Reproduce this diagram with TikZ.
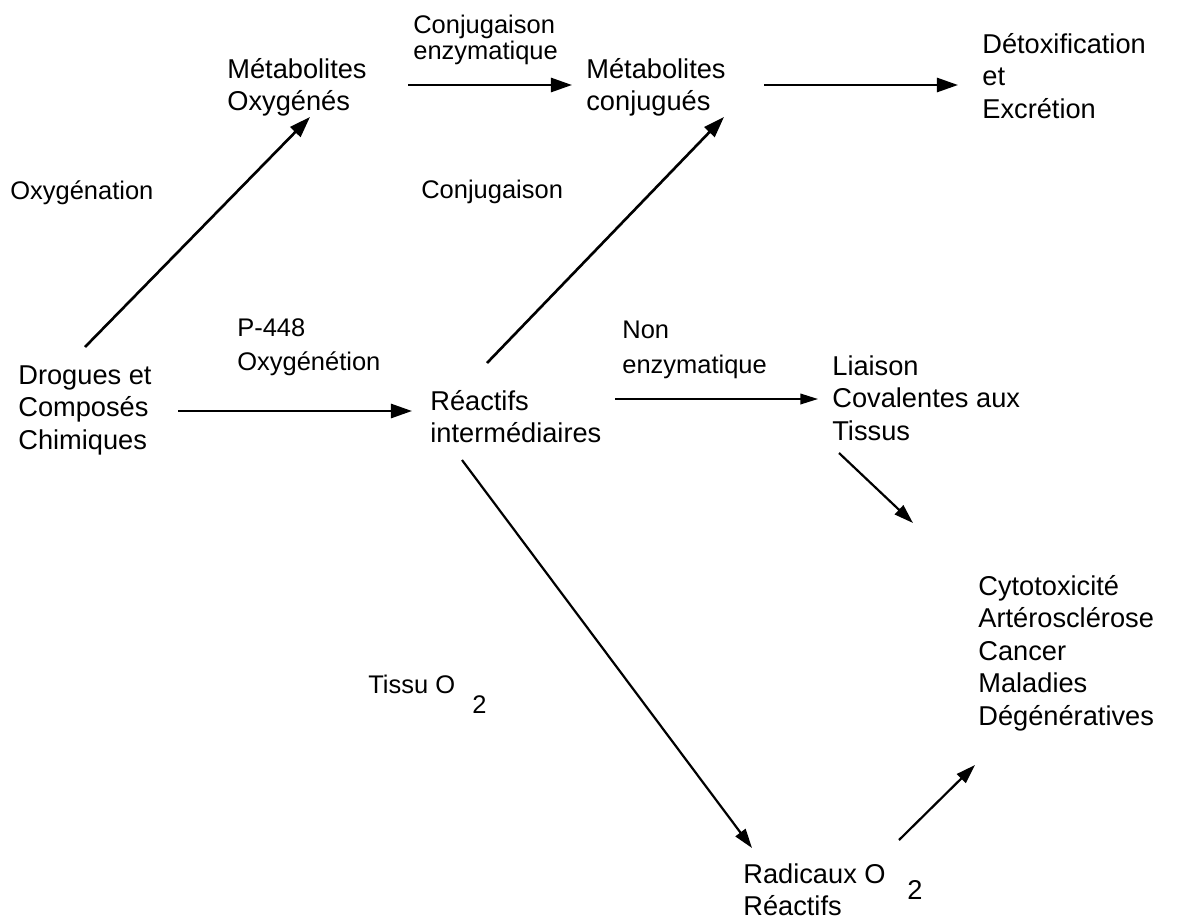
\documentclass[tikz,border=0pt]{standalone}
\usepackage{fontspec}
\setmainfont{Liberation Sans}
\usetikzlibrary{arrows.meta}
\begin{document}
\begin{tikzpicture}[x=0.02cm, y=-0.02cm,
  txt/.style={anchor=north west, align=left, inner sep=0pt, font=\fontsize{15.5}{18.5}\selectfont},
  lbl/.style={txt, font=\fontsize{14.5}{19.5}\selectfont},
  arr/.style={line width=1.5pt, -{Triangle[length=12pt,width=8pt]}},
  midarr/.style={arr, line width=1.25pt, -{Triangle[length=11pt,width=7pt]}},
  thinarr/.style={arr, line width=1pt, -{Triangle[length=10pt,width=6pt]}}]
\useasboundingbox (0,0) rectangle (1180,923);

% products
\node[txt] (metox)    at (227,58)  {Métabolites\\Oxygénés};
\node[txt] (metconj)  at (586,58)  {Métabolites\\conjugués};
\node[txt] (detox)    at (982,33)  {Détoxification\\et\\Excrétion};
\node[txt] (drogues)  at (18,365)  {Drogues et\\Composés\\Chimiques};
\node[txt] (reactifs) at (430,390) {Réactifs\\intermédiaires};
\node[txt] (liaison)  at (832,355) {Liaison\\Covalentes aux\\Tissus};
\node[txt] (maladies) at (978,575) {Cytotoxicité\\Artérosclérose\\Cancer\\Maladies\\Dégénératives};
\node[txt] (radicaux) at (743,863) {Radicaux O\\Réactifs};
\node[txt] (radsub)   at (907,880) {2};

% reactions
\node[lbl] (conjenz)  at (413,15)  {Conjugaison\\[-5pt]enzymatique};
\node[lbl] (oxygen)   at (10,180)  {Oxygénation};
\node[lbl] (conjug)   at (421,180) {Conjugaison};
\node[lbl] (ptype)    at (237,318) {P-448\\Oxygénétion};
\node[lbl] (nonenz)   at (622,321) {Non\\enzymatique};
\node[lbl] (tissu)    at (368,675) {Tissu O};
\node[lbl] (tissusub) at (472,695) {2};

% arrows
\draw[arr] ([shift={(67,-18)}]drogues.north west) -- ([shift={(83,59)}]metox.north west);
\draw[arr] ([shift={(181,27)}]metox.north west) -- ([shift={(-14,27)}]metconj.north west);
\draw[arr] ([shift={(178,27)}]metconj.north west) -- ([shift={(-24,52)}]detox.north west);
\draw[arr] ([shift={(57,-27)}]reactifs.north west) -- ([shift={(138,59)}]metconj.north west);
\draw[arr] ([shift={(160,46)}]drogues.north west) -- ([shift={(-18,21)}]reactifs.north west);
\draw[thinarr] ([shift={(185,9)}]reactifs.north west) -- ([shift={(-14,44)}]liaison.north west);
\draw[midarr] ([shift={(7,98)}]liaison.north west) -- ([shift={(-65,-52)}]maladies.north west);
\draw[midarr] ([shift={(32,70)}]reactifs.north west) -- ([shift={(9,-15)}]radicaux.north west);
\draw[midarr] ([shift={(156,-23)}]radicaux.north west) -- ([shift={(-3,190)}]maladies.north west);
\end{tikzpicture}
\end{document}
